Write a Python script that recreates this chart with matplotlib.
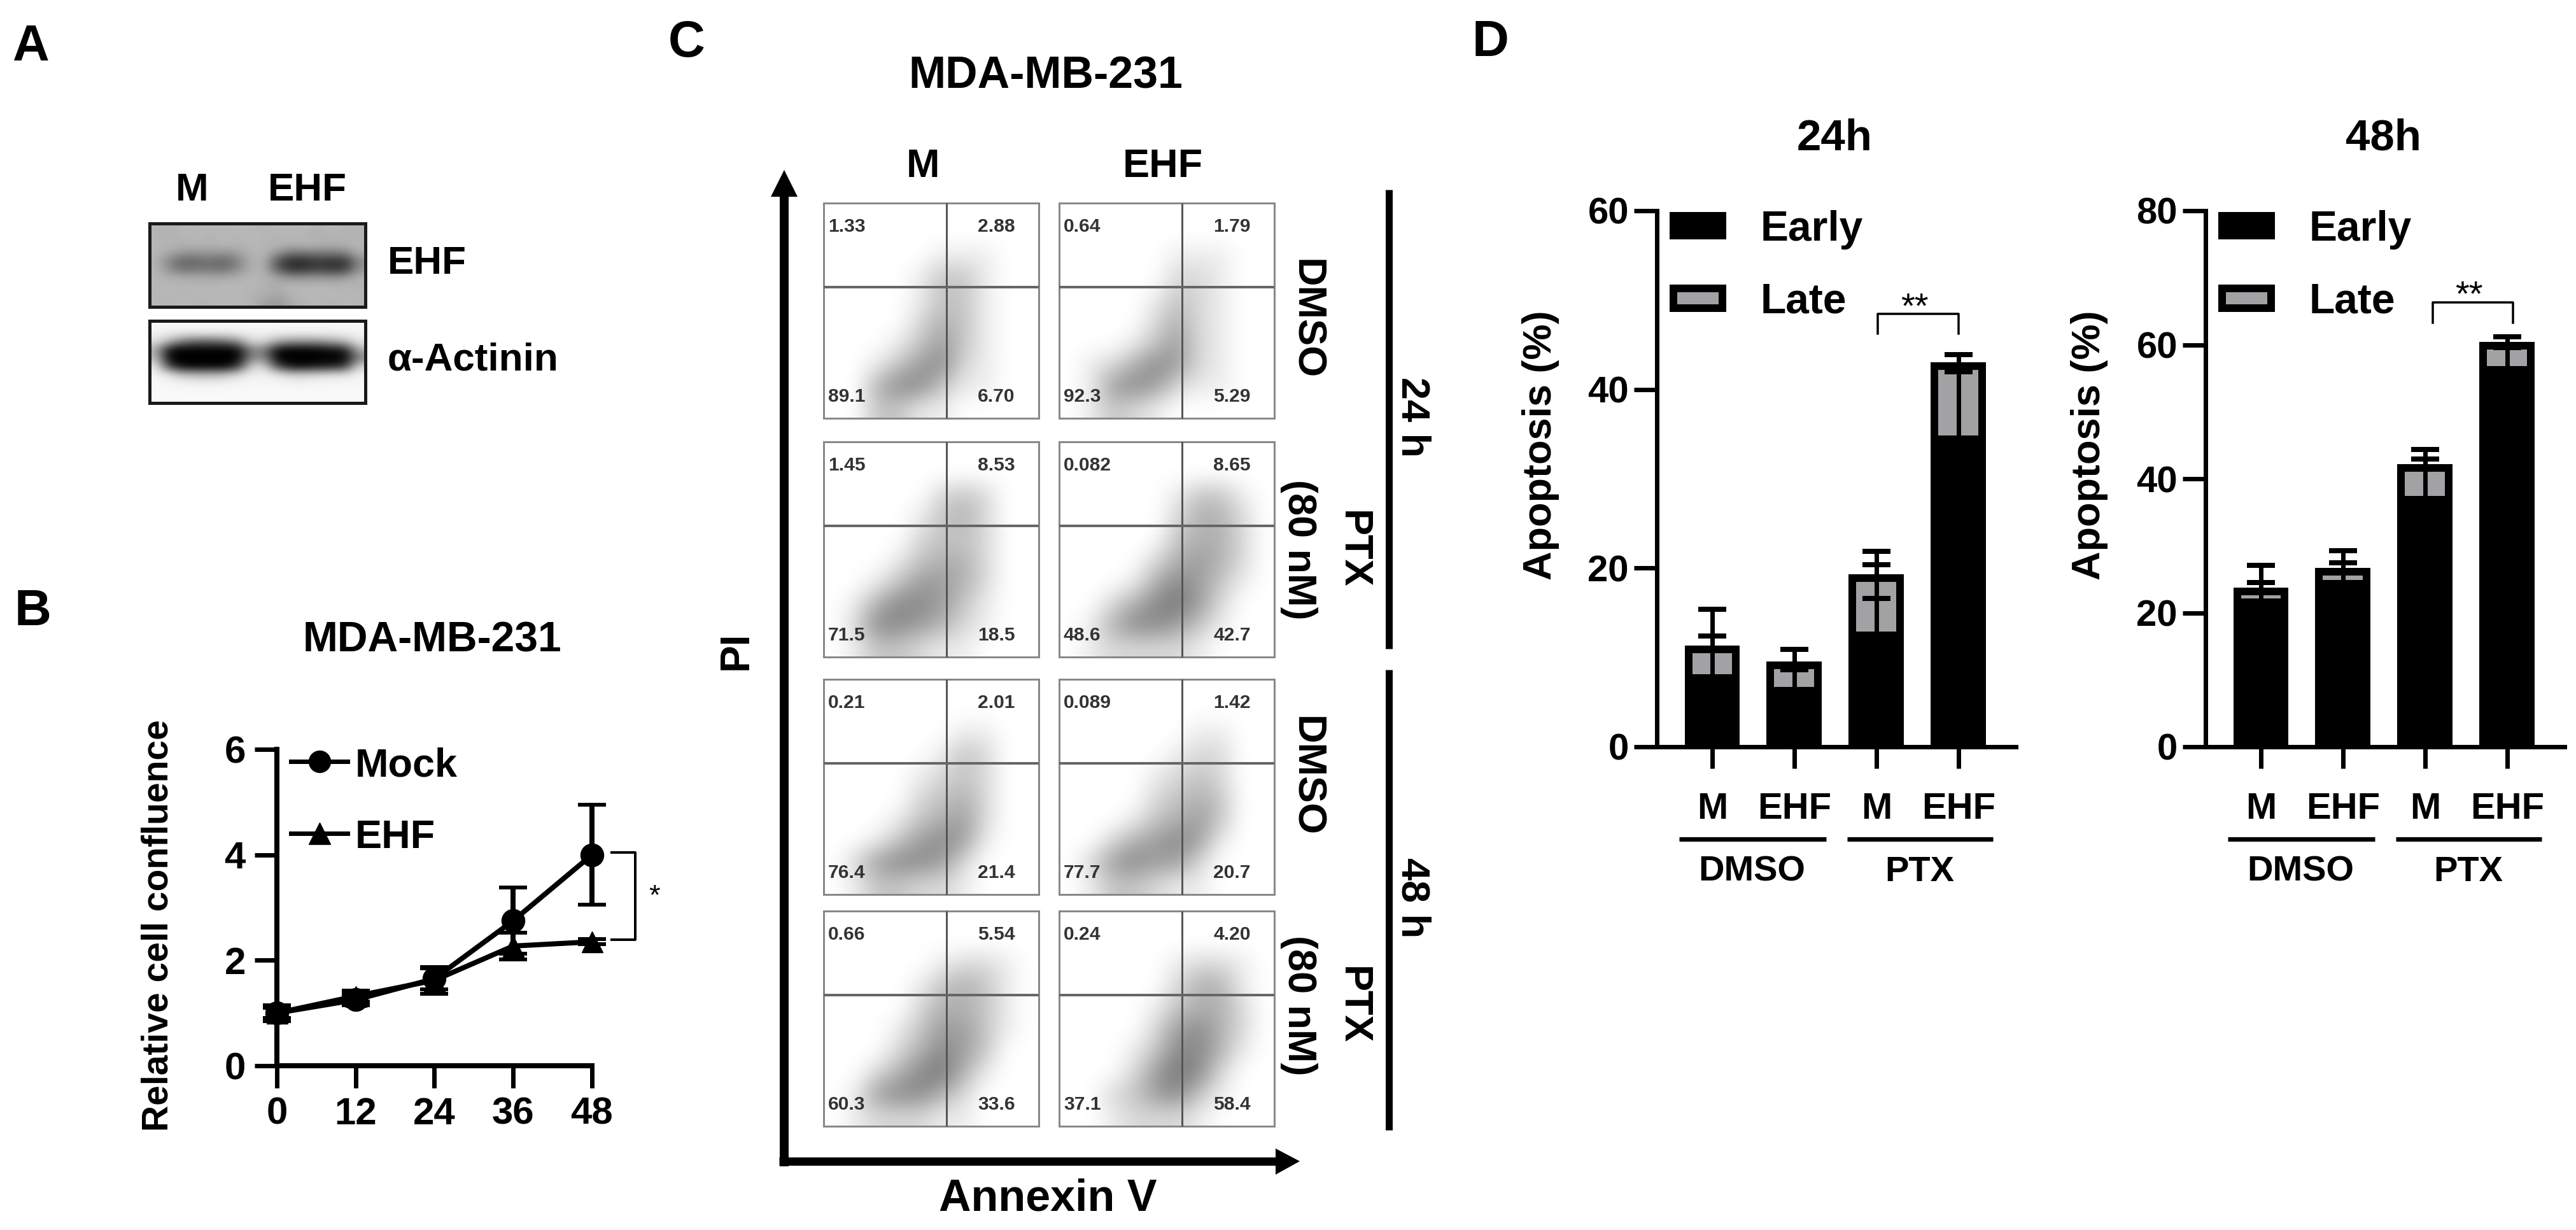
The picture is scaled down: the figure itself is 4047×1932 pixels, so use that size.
import matplotlib
matplotlib.use("Agg")
import matplotlib.pyplot as plt
from matplotlib.patches import Rectangle, Polygon

W, H = 4048, 1932
PX = 0.72  # points per pixel at dpi=100

plt.rcParams["font.family"] = ["Liberation Sans", "DejaVu Sans"]
plt.rcParams["font.weight"] = "bold"

# panel A, blot gray levels read by eye
blot_ehf = [
    [182, 175, 185, 178, 185, 180, 185, 182, 178, 185, 180, 186, 178, 185, 180, 178],
    [180, 178, 182, 185, 178, 186, 180, 186, 182, 178, 185, 180, 172, 180, 176, 180],
    [184, 180, 176, 182, 176, 184, 178, 184, 180, 182, 176, 184, 180, 176, 178, 182],
    [182, 170, 150, 150, 155, 150, 160, 180, 184, 150, 120, 120, 125, 125, 130, 176],
    [180, 130, 100, 105, 110, 100, 125, 176, 180, 80, 40, 45, 60, 50, 50, 140],
    [182, 140, 115, 120, 120, 115, 140, 176, 178, 95, 50, 55, 65, 55, 60, 150],
    [182, 178, 170, 172, 170, 170, 176, 184, 180, 165, 145, 150, 155, 150, 155, 178],
    [184, 180, 186, 182, 178, 186, 182, 184, 178, 172, 186, 180, 186, 180, 184, 178],
    [180, 186, 178, 184, 186, 180, 186, 178, 176, 165, 178, 186, 180, 186, 178, 184],
    [184, 178, 186, 180, 180, 186, 180, 182, 160, 150, 172, 180, 184, 178, 186, 180],
]
blot_actin = [
    [248, 248, 248, 248, 248, 248, 248, 248, 248, 248, 248, 248, 248, 248, 248, 248],
    [240, 236, 232, 232, 232, 232, 236, 240, 240, 238, 238, 238, 238, 238, 240, 244],
    [225, 180, 120, 100, 100, 110, 140, 215, 215, 170, 150, 145, 150, 165, 185, 230],
    [175, 10, 0, 0, 0, 0, 5, 130, 130, 10, 0, 0, 5, 15, 30, 180],
    [190, 0, 0, 0, 0, 0, 0, 130, 140, 0, 0, 0, 0, 0, 0, 130],
    [232, 60, 0, 0, 0, 0, 40, 205, 215, 70, 10, 10, 20, 30, 50, 215],
    [244, 225, 190, 180, 180, 185, 215, 238, 240, 228, 205, 205, 215, 220, 225, 242],
    [248, 245, 240, 238, 238, 240, 244, 246, 246, 245, 242, 242, 245, 245, 246, 248],
    [248, 248, 248, 248, 248, 248, 248, 248, 248, 248, 248, 248, 248, 248, 248, 248],
    [250, 250, 250, 250, 250, 250, 250, 250, 250, 250, 250, 250, 250, 250, 250, 250],
]

# panel B
hours = [0, 12, 24, 36, 48]
mock = [1.0, 1.25, 1.65, 2.75, 4.0]
mock_err = [0.1, 0.1, 0.2, 0.63, 0.95]
ehf = [1.0, 1.32, 1.62, 2.27, 2.35]
ehf_err = [0.15, 0.1, 0.25, 0.25, 0.05]

# panel C, dot density on a coarse grid, read by eye (row 0 is the top)
dens_m_dmso_24 = [
    [0, 0, 0, 0, 0, 0, 0, 0, 0, 0],
    [0, 0, 0, 0, 0, 0, 0, 0, 0, 0],
    [0, 0, 0, 0, 0, 1, 1, 1, 0, 0],
    [0, 0, 0, 0, 1, 3, 3, 1, 0, 0],
    [0, 0, 0, 0, 1, 3, 3, 1, 0, 0],
    [0, 0, 0, 0, 2, 4, 3, 1, 0, 0],
    [0, 0, 0, 1, 3, 5, 3, 1, 0, 0],
    [0, 0, 1, 3, 5, 6, 2, 1, 0, 0],
    [0, 0, 4, 6, 6, 3, 1, 1, 0, 0],
    [0, 0, 3, 3, 1, 1, 0, 0, 0, 0],
]
dens_e_dmso_24 = [
    [0, 0, 0, 0, 0, 0, 0, 0, 0, 0],
    [0, 0, 0, 0, 0, 0, 0, 0, 0, 0],
    [0, 0, 0, 0, 0, 1, 1, 1, 0, 0],
    [0, 0, 0, 0, 0, 2, 2, 1, 0, 0],
    [0, 0, 0, 0, 1, 3, 2, 1, 0, 0],
    [0, 0, 0, 0, 2, 4, 2, 1, 0, 0],
    [0, 0, 0, 1, 3, 5, 2, 1, 0, 0],
    [0, 1, 2, 4, 6, 5, 2, 1, 0, 0],
    [0, 1, 5, 6, 5, 2, 1, 1, 0, 0],
    [0, 1, 3, 2, 1, 0, 0, 0, 0, 0],
]
dens_m_ptx_24 = [
    [0, 0, 0, 0, 0, 0, 0, 0, 0, 0],
    [0, 0, 0, 0, 0, 0, 0, 0, 0, 0],
    [0, 0, 0, 0, 0, 2, 3, 2, 0, 0],
    [0, 0, 0, 0, 1, 3, 4, 2, 0, 0],
    [0, 0, 0, 0, 2, 3, 3, 2, 0, 0],
    [0, 0, 0, 1, 3, 4, 4, 2, 0, 0],
    [0, 0, 1, 3, 5, 5, 4, 2, 0, 0],
    [0, 1, 4, 6, 6, 5, 3, 1, 0, 0],
    [0, 2, 6, 6, 5, 4, 2, 1, 0, 0],
    [0, 1, 3, 3, 2, 1, 1, 0, 0, 0],
]
dens_e_ptx_24 = [
    [0, 0, 0, 0, 0, 0, 0, 0, 0, 0],
    [0, 0, 0, 0, 0, 0, 0, 0, 0, 0],
    [0, 0, 0, 0, 0, 1, 3, 3, 1, 0],
    [0, 0, 0, 0, 0, 2, 4, 4, 2, 0],
    [0, 0, 0, 0, 0, 3, 4, 4, 2, 0],
    [0, 0, 0, 0, 2, 4, 5, 4, 2, 0],
    [0, 0, 0, 1, 4, 6, 5, 3, 1, 0],
    [0, 0, 2, 4, 6, 7, 5, 2, 0, 0],
    [0, 1, 4, 6, 6, 5, 3, 1, 0, 0],
    [0, 1, 2, 2, 2, 2, 1, 0, 0, 0],
]
dens_m_dmso_48 = [
    [0, 0, 0, 0, 0, 0, 0, 0, 0, 0],
    [0, 0, 0, 0, 0, 0, 0, 0, 0, 0],
    [0, 0, 0, 0, 0, 0, 1, 1, 0, 0],
    [0, 0, 0, 0, 0, 1, 3, 2, 0, 0],
    [0, 0, 0, 0, 1, 2, 3, 2, 0, 0],
    [0, 0, 0, 0, 2, 3, 4, 2, 0, 0],
    [0, 0, 0, 1, 3, 4, 5, 2, 0, 0],
    [0, 0, 1, 3, 5, 6, 5, 1, 0, 0],
    [0, 2, 5, 6, 6, 5, 2, 0, 0, 0],
    [0, 1, 3, 3, 2, 2, 1, 0, 0, 0],
]
dens_e_dmso_48 = [
    [0, 0, 0, 0, 0, 0, 0, 0, 0, 0],
    [0, 0, 0, 0, 0, 0, 0, 0, 0, 0],
    [0, 0, 0, 0, 0, 0, 1, 1, 0, 0],
    [0, 0, 0, 0, 0, 1, 2, 2, 0, 0],
    [0, 0, 0, 0, 1, 2, 3, 2, 0, 0],
    [0, 0, 0, 0, 2, 3, 4, 3, 0, 0],
    [0, 0, 0, 1, 3, 4, 5, 3, 0, 0],
    [0, 0, 2, 4, 5, 6, 5, 1, 0, 0],
    [0, 2, 5, 6, 5, 5, 2, 0, 0, 0],
    [0, 1, 3, 3, 2, 1, 1, 0, 0, 0],
]
dens_m_ptx_48 = [
    [0, 0, 0, 0, 0, 0, 0, 0, 0, 0],
    [0, 0, 0, 0, 0, 0, 0, 0, 0, 0],
    [0, 0, 0, 0, 0, 1, 2, 2, 1, 0],
    [0, 0, 0, 0, 1, 3, 4, 3, 1, 0],
    [0, 0, 0, 0, 2, 4, 4, 3, 1, 0],
    [0, 0, 0, 1, 3, 5, 5, 3, 1, 0],
    [0, 0, 0, 2, 4, 6, 5, 3, 0, 0],
    [0, 0, 2, 4, 6, 7, 4, 1, 0, 0],
    [0, 1, 5, 6, 6, 4, 2, 0, 0, 0],
    [0, 1, 2, 2, 2, 1, 1, 0, 0, 0],
]
dens_e_ptx_48 = [
    [0, 0, 0, 0, 0, 0, 0, 0, 0, 0],
    [0, 0, 0, 0, 0, 0, 0, 0, 0, 0],
    [0, 0, 0, 0, 0, 1, 2, 2, 1, 0],
    [0, 0, 0, 0, 0, 2, 4, 4, 1, 0],
    [0, 0, 0, 0, 1, 3, 4, 4, 2, 0],
    [0, 0, 0, 0, 2, 5, 6, 4, 2, 0],
    [0, 0, 0, 1, 3, 6, 6, 4, 1, 0],
    [0, 0, 0, 2, 5, 7, 6, 2, 0, 0],
    [0, 0, 2, 3, 5, 6, 3, 1, 0, 0],
    [0, 0, 1, 2, 2, 2, 1, 0, 0, 0],
]
flow_dens = [dens_m_dmso_24, dens_e_dmso_24, dens_m_ptx_24, dens_e_ptx_24,
             dens_m_dmso_48, dens_e_dmso_48, dens_m_ptx_48, dens_e_ptx_48]
ul = ["1.33", "0.64", "1.45", "0.082", "0.21", "0.089", "0.66", "0.24"]
ur = ["2.88", "1.79", "8.53", "8.65", "2.01", "1.42", "5.54", "4.20"]
ll = ["89.1", "92.3", "71.5", "48.6", "76.4", "77.7", "60.3", "37.1"]
lr = ["6.70", "5.29", "18.5", "42.7", "21.4", "20.7", "33.6", "58.4"]

# panel D
groups = ["M", "EHF", "M", "EHF"]
early_24 = [7.7, 6.3, 12.5, 34.4]
late_24 = [3.2, 2.8, 6.4, 8.2]
early_24_up = [4.7, 2.3, 7.9, 7.6]
late_24_up = [4.5, 1.8, 3.0, 1.3]
late_24_low = [0, 0, 2.3, 0]
early_48 = [21.6, 24.3, 36.9, 56.2]
late_48 = [1.6, 1.8, 4.7, 3.7]
early_48_up = [2.9, 3.2, 6.0, 3.4]
late_48_up = [3.9, 3.2, 2.8, 1.3]
late_48_low = [0, 0, 0, 0]


def px_axes(fig, l, t, r, b):
    return fig.add_axes([l / W, 1 - b / H, (r - l) / W, (b - t) / H], facecolor="none")


fig = plt.figure(figsize=(W / 100, H / 100), dpi=100, facecolor="white")
ov = fig.add_axes([0, 0, 1, 1], facecolor="none", zorder=5)


def txt(x, y, s, size, rot=0, ha="center", color="black", weight="bold"):
    ov.text(x, y, s, fontsize=size * PX, rotation=rot, ha=ha,
            va="center_baseline" if rot == 0 else "center",
            color=color, fontweight=weight)


def seg(xs, ys, lw, color="black"):
    ov.plot(xs, ys, color=color, lw=lw * PX, solid_capstyle="butt", solid_joinstyle="miter")


# panel letters
txt(49, 66, "A", 80)
txt(52, 953, "B", 80)
txt(1079, 60, "C", 80)
txt(2342, 59, "D", 80)

# --- A: blots
for data, top, bot in [(blot_ehf, 351, 482), (blot_actin, 504, 633)]:
    ov.imshow(data, cmap="gray", vmin=0, vmax=255, extent=(235, 574, bot, top),
              aspect="auto", interpolation="bicubic")
    ov.add_patch(Rectangle((235, top), 339, bot - top, fill=False, ec="#1a1a1a", lw=5 * PX))
txt(302, 293, "M", 62)
txt(483, 293, "EHF", 62)
txt(609, 408, "EHF", 62, ha="left")
txt(609, 560, "α-Actinin", 62, ha="left")

# --- B: growth curves
txt(679, 1000, "MDA-MB-231", 66)
axb = px_axes(fig, 435, 1177, 930, 1674)
axb.errorbar(hours, mock, yerr=mock_err, color="black", marker="o", ms=36 * PX, lw=8 * PX,
             elinewidth=8 * PX, capsize=16 * PX * 1.4, capthick=6 * PX, clip_on=False)
axb.errorbar(hours, ehf, yerr=ehf_err, color="black", marker="^", ms=33 * PX, lw=8 * PX,
             elinewidth=8 * PX, capsize=16 * PX * 1.4, capthick=6 * PX, clip_on=False)
axb.set_xlim(0, 48)
axb.set_ylim(0, 6)
axb.set_xticks(hours)
axb.set_yticks([0, 2, 4, 6])
axb.tick_params(width=7 * PX, length=35 * PX, labelsize=60 * PX, pad=14 * PX)
for s in ["top", "right"]:
    axb.spines[s].set_visible(False)
for s in ["left", "bottom"]:
    axb.spines[s].set_linewidth(8 * PX)
txt(249, 1454, "Relative cell confluence", 57, rot=90)
for y, mk, name in [(1196, "o", "Mock"), (1309, "^", "EHF")]:
    ov.plot([457, 546], [y, y], color="black", lw=7 * PX)
    ov.plot([502], [y], color="black", marker=mk, ms=34 * PX)
    txt(558, y, name, 63, ha="left")
ov.plot([961, 998, 998, 961], [1339, 1339, 1476, 1476], color="black", lw=4 * PX)
txt(1028, 1404, "*", 45, weight="normal")

# --- C: flow plots
txt(1643, 113, "MDA-MB-231", 70)
txt(1450, 255, "M", 63)
txt(1827, 255, "EHF", 63)
col_x = [1294, 1664]
row_y = [319, 694, 1067, 1431]
SZ = 338
for i, dens in enumerate(flow_dens):
    x0 = col_x[i % 2]
    y0 = row_y[i // 2]
    ov.imshow(dens, cmap="gray_r", vmin=0, vmax=13, extent=(x0, x0 + SZ, y0 + SZ, y0),
              aspect="auto", interpolation="bicubic")
    ov.add_patch(Rectangle((x0, y0), SZ, SZ, fill=False, ec="#888888", lw=3 * PX))
    seg([x0 + 0.57 * SZ] * 2, [y0, y0 + SZ], 3, "#555555")
    seg([x0, x0 + SZ], [y0 + 0.39 * SZ] * 2, 4, "#666666")
    txt(x0 + 7, y0 + 0.10 * SZ, ul[i], 30, ha="left", color="#333333")
    txt(x0 + 0.89 * SZ, y0 + 0.10 * SZ, ur[i], 30, ha="right", color="#333333")
    txt(x0 + 7, y0 + 0.89 * SZ, ll[i], 30, ha="left", color="#333333")
    txt(x0 + 0.89 * SZ, y0 + 0.89 * SZ, lr[i], 30, ha="right", color="#333333")
# arrows
seg([1232, 1232], [1832, 300], 14)
ov.add_patch(Polygon([(1211, 309), (1253, 309), (1232, 267)], color="black", lw=0))
seg([1224, 2008], [1824, 1824], 13)
ov.add_patch(Polygon([(2004, 1804), (2004, 1845), (2042, 1824)], color="black", lw=0))
txt(1157, 1022, "PI", 64, rot=90)
txt(1646, 1876, "Annexin V", 70)
seg([2182, 2182], [298, 1019], 11)
seg([2182, 2182], [1052, 1775], 11)
txt(2219, 655, "24 h", 63, rot=270)
txt(2219, 1410, "48 h", 63, rot=270)
for y in [502, 1220]:
    txt(2052, y, "DMSO", 63, rot=270)
for y in [863, 1579]:
    txt(2125, y, "PTX", 63, rot=270)
    txt(2041, y, "(80 nM)", 63, rot=270)

# --- D: stacked bars
for left, ymax, yticks, early, late, eu, lu, ll_, title in [
    (2603, 60, [0, 20, 40, 60], early_24, late_24, early_24_up, late_24_up, late_24_low, "24h"),
    (3465, 80, [0, 20, 40, 60, 80], early_48, late_48, early_48_up, late_48_up, late_48_low, "48h"),
]:
    ax = px_axes(fig, left, 331, left + 564, 1173)
    xs = [0, 1, 2, 3]
    ax.bar(xs, early, width=0.58, color="black", edgecolor="black", linewidth=12 * PX)
    ax.bar(xs, late, bottom=early, width=0.58, color="#a2a2a4", edgecolor="black",
           linewidth=12 * PX)
    ax.errorbar(xs, early, yerr=[[0] * 4, eu], fmt="none", ecolor="black",
                elinewidth=7 * PX, capsize=22 * PX, capthick=8 * PX, clip_on=False)
    tops = [a + b for a, b in zip(early, late)]
    ax.errorbar(xs, tops, yerr=[ll_, lu], fmt="none", ecolor="black",
                elinewidth=7 * PX, capsize=22 * PX, capthick=8 * PX, clip_on=False)
    ax.set_xlim(-0.674, 3.70)
    ax.set_ylim(0, ymax)
    ax.set_xticks(xs)
    ax.set_xticklabels(groups)
    ax.set_yticks(yticks)
    ax.tick_params(axis="y", width=7 * PX, length=36 * PX, labelsize=58 * PX, pad=8 * PX)
    ax.tick_params(axis="x", width=7 * PX, length=34 * PX, labelsize=58 * PX, pad=37 * PX)
    for s in ["top", "right"]:
        ax.spines[s].set_visible(False)
    for s in ["left", "bottom"]:
        ax.spines[s].set_linewidth(7 * PX)
    off = left - 2603
    txt(2885 + off - 3, 211, title, 69)
    txt(2425 + off - 4, 699, "Apoptosis (%)", 63, rot=90)
    ov.add_patch(Rectangle((2623 + off, 333), 89, 43, color="black", lw=0))
    ov.add_patch(Rectangle((2629 + off, 453), 77, 31, fc="#a2a2a4", ec="black", lw=12 * PX))
    txt(2766 + off, 354, "Early", 66, ha="left")
    txt(2766 + off, 467, "Late", 66, ha="left")
    seg([2638 + off, 2869 + off], [1318, 1318], 7)
    seg([2902 + off, 3131 + off], [1318, 1318], 7)
    txt(2752 + off, 1364, "DMSO", 56)
    txt(3016 + off, 1364, "PTX", 56)
ov.plot([2950, 2950, 3077, 3077], [524, 493, 493, 524], color="black", lw=3.5 * PX)
txt(3008, 478, "**", 56, weight="normal")
ov.plot([3822, 3822, 3948, 3948], [507, 475, 475, 507], color="black", lw=3.5 * PX)
txt(3879, 459, "**", 56, weight="normal")

ov.set_xlim(0, W)
ov.set_ylim(H, 0)
ov.axis("off")

fig.savefig("out.png", dpi=100)
